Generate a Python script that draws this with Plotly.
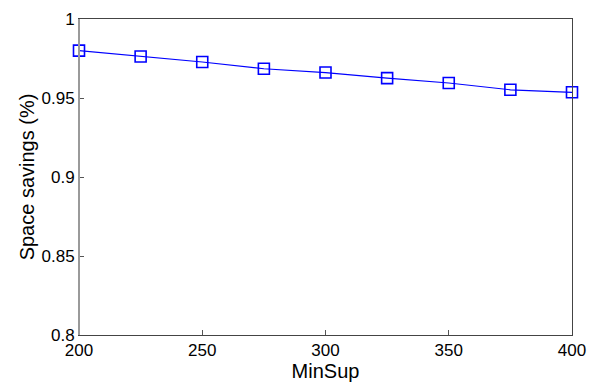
import plotly.graph_objects as go

min_sup = [200, 225, 250, 275, 300, 325, 350, 375, 400]
space_savings = [0.980, 0.9763, 0.9728, 0.9685, 0.9661, 0.9626, 0.9595, 0.9552, 0.9536]

y_ticks = [0.8, 0.85, 0.9, 0.95, 1.0]
y_tick_labels = ["0.8", "0.85", "0.9", "0.95", "1"]
x_ticks = [200, 250, 300, 350, 400]

FONT = "Liberation Sans, Arial"

fig = go.Figure()
fig.add_trace(go.Scatter(
    x=min_sup, y=space_savings, mode="lines+markers",
    line=dict(color="#0000ff", width=1.2),
    marker=dict(symbol="square-open", size=11, color="#0000ff", line=dict(width=1.6, color="#0000ff")),
    showlegend=False, cliponaxis=False,
))

axis_common = dict(
    showline=True, linecolor="#444444", linewidth=1, mirror=True,
    ticks="inside", ticklen=5, tickcolor="#555555", showgrid=False, zeroline=False,
    tickfont=dict(family=FONT, size=17, color="#000000"),
)

fig.update_layout(
    width=603, height=385,
    margin=dict(l=79, r=31, t=10, b=49),
    paper_bgcolor="white", plot_bgcolor="white",
    xaxis=dict(range=[200, 400], tickvals=x_ticks, ticktext=[str(v) for v in x_ticks],
               title=dict(text="MinSup", font=dict(family=FONT, size=20, color="#000"), standoff=1),
               **axis_common),
    yaxis=dict(range=[0.8, 1.0], tickvals=y_ticks, ticktext=y_tick_labels,
               title=dict(text="Space savings (%)", font=dict(family=FONT, size=20, color="#000"), standoff=1),
               **axis_common),
    shapes=[dict(type="line", xref="paper", yref="paper", x0=0, x1=0, y0=0, y1=1,
                 line=dict(color="#9a9a9a", width=2), layer="above")],
)

fig.write_html("out.html")
